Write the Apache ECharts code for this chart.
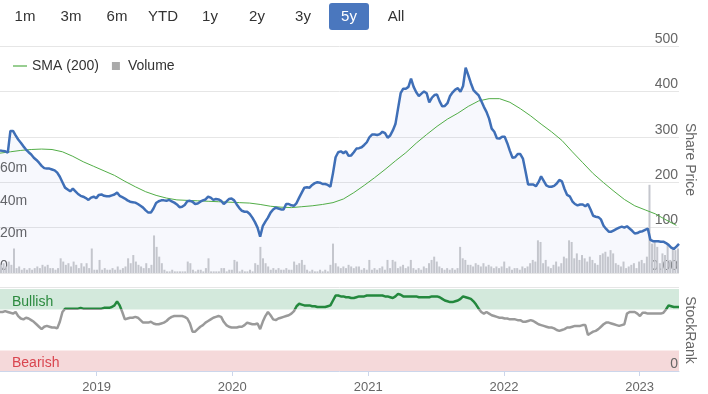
<!DOCTYPE html>
<html><head><meta charset="utf-8">
<script src="https://cdn.jsdelivr.net/npm/echarts@6/dist/echarts.min.js"></script>
<style>html,body{margin:0;padding:0;background:#fff}#c{width:708px;height:394px}</style>
</head><body><div id="c"></div>
<script>
// ---------- data ----------
const firstWeek = [2018, 3, 16];           // 2018-04-16, weekly points
const axisStart = '2018-04-16';
const axisEnd = '2023-04-17';
const rangeButtons = ['1m','3m','6m','YTD','1y','2y','3y','5y','All'];
const activeButton = '5y';
const legendNames = ['SMA (200)', 'Volume'];
const bullishFrom = 75;
const bearishTo = 25;

// weekly share price
const price = [
270,269,268,265,313,313,303,294,287,279,
272,266,261,254,249,243,236,231,230,230,
228,226,221,212,200,188,184,180,186,180,
174,170,168,165,161,166,168,165,172,173,
170,169,169,171,173,177,170,167,164,160,
157,156,155,152,148,144,138,133,133,142,
154,158,160,160,159,161,158,155,151,145,
146,150,158,159,157,152,153,157,160,162,
168,166,161,163,162,159,152,157,163,164,
160,151,143,137,135,135,130,122,112,100,
80,103,113,122,133,140,144,142,140,140,
152,152,149,148,154,166,177,188,189,188,
194,198,200,199,196,196,194,190,220,255,
266,268,264,268,258,259,266,274,275,277,
282,288,299,305,305,304,306,311,308,298,
303,314,328,362,396,406,406,410,428,410,
398,390,395,400,396,376,386,392,393,378,
367,368,374,390,398,404,407,399,412,452,
436,418,403,397,391,379,366,355,340,318,
311,297,296,300,300,286,269,254,255,262,
262,252,224,195,195,195,191,200,213,203,
193,190,190,192,197,205,202,185,172,169,
158,152,149,151,151,147,152,140,126,124,
123,118,104,97,91,91,94,97,100,102,
100,103,98,93,87,88,91,92,95,98,
73,70,70,70,69,69,66,62,56,53,
58,64];

// SMA (200), one value every 4 weeks
const smaStepWeeks = 4;
const sma = [
264,267,270,272,273,272,267,257,245,235,
225,215,202,190,179,171,165,161,160,159,
158,157,156,155,154,151,147,145,144,146,
148,151,155,163,177,193,210,228,247,265,
286,305,323,339,352,367,379,384,384,376,
362,346,328,311,292,267,243,219,199,180,
162,148,139,130,117,105];

// weekly volume (millions)
const volume = [
5,6,4,7,5,15,3,4,2,3,
2,3,2,3,4,3,5,4,5,3,
3,2,3,9,7,5,6,4,7,5,
3,6,4,6,3,15,2,2,8,2,
3,2,2,3,2,4,2,3,4,9,
6,11,7,5,4,3,6,3,5,23,
16,10,6,2,1,1,2,1,1,1,
1,1,7,6,2,1,2,2,1,3,
9,1,1,1,1,3,3,1,2,2,
8,7,1,2,1,1,2,1,6,5,
16,9,6,4,2,3,2,3,2,2,
3,2,2,7,5,6,8,5,2,1,
2,1,1,2,1,2,1,5,18,6,
4,3,4,3,5,4,3,4,4,2,
3,2,8,2,3,2,3,4,2,8,
3,8,7,3,4,5,3,4,8,3,
2,3,2,4,3,6,8,10,7,4,
3,2,3,2,3,2,3,16,9,8,
5,5,4,6,5,4,6,4,5,4,
3,4,3,4,7,3,4,2,3,3,
2,4,3,4,6,8,7,20,19,6,
8,4,3,5,7,4,6,10,9,20,
19,9,12,8,11,9,7,10,8,6,
5,11,12,13,10,14,12,6,5,4,
7,3,4,5,6,3,7,8,6,10,
54,18,20,16,6,12,11,17,8,16,
14,15];

// weekly StockRank
const stockRank = [
72,72,73,72,71,70,72,67,64,63,
65,64,62,60,57,54,51,54,55,54,
53,53,52,60,72,76,76,76,76,76,
76,77,76,76,76,76,76,76,76,76,
77,77,77,78,80,85,80,72,63,64,
65,65,66,65,62,59,59,59,60,58,
57,57,58,59,61,64,66,67,67,67,
67,66,64,58,48,48,51,54,56,59,
61,63,65,66,67,66,60,56,54,53,
53,53,54,54,56,59,58,57,57,58,
51,60,67,72,68,63,62,64,65,66,
67,68,70,73,79,82,81,80,80,80,
79,79,78,78,78,78,79,80,86,92,
92,91,91,90,90,89,89,90,91,91,
91,92,92,92,92,92,92,92,91,91,
90,89,91,94,93,91,91,91,91,91,
91,90,90,90,90,90,91,91,91,90,
88,86,85,84,84,85,86,88,91,90,
89,88,85,81,76,72,70,72,70,68,
67,66,65,65,64,64,63,63,63,62,
62,60,60,61,62,61,59,57,56,55,
54,53,53,52,50,49,50,51,53,53,
54,55,55,55,56,56,44,46,48,49,
51,54,57,59,59,58,57,56,55,56,
57,70,72,72,72,70,67,71,71,70,
70,70,70,70,70,71,75,80,79,78,
78,78];

// ---------- build ----------
function weekTs(i){
  const d = new Date(firstWeek[0], firstWeek[1], firstWeek[2]);
  d.setDate(d.getDate() + 7*i);
  return d.getTime();
}
const pricePts = price.map((v,i)=>[weekTs(i), v]);
const smaPts = sma.map((v,i)=>[weekTs(i*smaStepWeeks), v]);
const volPts = volume.map((v,i)=>[weekTs(i), v]);
const rankPts = stockRank.map((v,i)=>[weekTs(i), v]);

const FONT = '"Liberation Sans", Arial, sans-serif';
const DAY = 24*3600*1000;
const xBase = {type:'time', min: axisStart, max: axisEnd, minInterval: 365*DAY, maxInterval: 366*DAY};

const btnCenters = [25,71,117,163,210,257,303,349,396];
const graphic = [];
rangeButtons.forEach((b,i)=>{
  if (b === activeButton) {
    graphic.push({type:'rect', shape:{x:btnCenters[i]-20, y:3, width:40, height:27, r:3}, style:{fill:'#4a77be'}});
  }
  graphic.push({type:'text', x:btnCenters[i], y:17, style:{text:b, font:'15px '+FONT, fill: b===activeButton?'#fff':'#333', textAlign:'center', textVerticalAlign:'middle'}});
});
graphic.push({type:'line', shape:{x1:0,y1:287.5,x2:679,y2:287.5}, style:{stroke:'#e6e6e6', lineWidth:1}});

const gridBase = {left:0, right:29, outerBoundsMode:'none', containLabel:false};

const chart = echarts.init(document.getElementById('c'), null, {renderer:'canvas'});
chart.setOption({
  animation:false,
  backgroundColor:'#fff',
  textStyle:{fontFamily:FONT},
  graphic: graphic,
  legend:{
    left:8, top:54, itemWidth:14, itemHeight:8, itemGap:13,
    textStyle:{fontSize:14, color:'#333', fontFamily:FONT},
    data:[{name:legendNames[0], icon:'path://M0,0H14V1.2H0Z', itemStyle:{color:'#52ad47'}},
          {name:legendNames[1], icon:'path://M0,0H10V10H0Z', itemStyle:{color:'#aaa'}}]
  },
  grid:[
    Object.assign({top:46, height:227}, gridBase),
    Object.assign({top:175, height:98}, gridBase),
    Object.assign({top:289, height:82}, gridBase)
  ],
  xAxis:[
    Object.assign({gridIndex:0, show:false}, xBase),
    Object.assign({gridIndex:1, show:false}, xBase),
    Object.assign({gridIndex:2,
      axisLine:{show:true, lineStyle:{color:'#ccd6eb'}},
      axisTick:{show:true, length:5, lineStyle:{color:'#ccd6eb'}},
      axisLabel:{color:'#666', fontSize:13, margin:10, formatter:'{yyyy}', fontFamily:FONT},
      splitLine:{show:false}}, xBase)
  ],
  yAxis:[
    {gridIndex:0, type:'value', position:'right', min:0, max:500, interval:100,
     axisLine:{show:false}, axisTick:{show:false},
     splitLine:{lineStyle:{color:'#e6e6e6'}},
     axisLabel:{inside:true, margin:1, verticalAlign:'bottom', color:'#666', fontSize:14, fontFamily:FONT,
       showMinLabel:true, showMaxLabel:true,
       formatter:v=> v===0 ? '0.00' : String(v)},
     name:'Share Price', nameLocation:'middle', nameRotate:-90, nameGap:4, nameMoveOverlap:false,
     nameTextStyle:{color:'#666', fontSize:14, fontFamily:FONT}},
    {gridIndex:1, type:'value', position:'left', min:0, max:60, interval:20,
     axisLine:{show:false}, axisTick:{show:false}, splitLine:{show:false},
     axisLabel:{inside:true, margin:0, verticalAlign:'bottom', color:'#666', fontSize:14, fontFamily:FONT,
       showMinLabel:true, showMaxLabel:true,
       formatter:v=> v===0 ? '0' : v+'m'}},
    {gridIndex:2, type:'value', position:'right', min:0, max:100, interval:50,
     axisLine:{show:false}, axisTick:{show:false}, splitLine:{show:false},
     axisLabel:{inside:true, margin:1, verticalAlign:'bottom', color:'#666', fontSize:14, fontFamily:FONT,
       showMinLabel:true, showMaxLabel:false, hideOverlap:false,
       formatter:v=> v===0 ? '0' : ''},
     z:10,
     name:'StockRank', nameLocation:'middle', nameRotate:-90, nameGap:4, nameMoveOverlap:false,
     nameTextStyle:{color:'#666', fontSize:14, fontFamily:FONT}}
  ],
  visualMap:{type:'piecewise', show:false, seriesIndex:5, dimension:1,
    pieces:[{gt:bullishFrom, lte:100, color:'#23883d'}, {gte:0, lte:bullishFrom, color:'#9a9a9a'}]},
  series:[
    {name:'PriceArea', type:'line', xAxisIndex:0, yAxisIndex:0, data:pricePts, symbol:'none',
     lineStyle:{width:0}, areaStyle:{color:'rgba(70,100,200,0.06)'}, z:1, silent:true},
    {name:legendNames[1], type:'bar', xAxisIndex:1, yAxisIndex:1, data:volPts, barWidth:2,
     itemStyle:{color:'#c4c6cd'}, z:2, silent:true},
    {name:legendNames[0], type:'line', xAxisIndex:0, yAxisIndex:0, data:smaPts, symbol:'none',
     lineStyle:{color:'#52ad47', width:1}, itemStyle:{color:'#52ad47'}, z:3, silent:true},
    {name:'Price', type:'line', xAxisIndex:0, yAxisIndex:0, data:pricePts, symbol:'none',
     lineStyle:{color:'#3f6fb7', width:2.5}, z:4, silent:true},
    {name:'Bands', type:'line', xAxisIndex:2, yAxisIndex:2, data:rankPts, symbol:'none',
     lineStyle:{opacity:0}, itemStyle:{color:'#9a9a9a'}, z:1, silent:true,
     markArea:{silent:true,
       data:[
         [{xAxis:axisStart, yAxis:bullishFrom, name:'Bullish', itemStyle:{color:'#d3e9dc'},
           label:{show:true, position:'insideLeft', distance:12, offset:[0,3], color:'#2b8a3e', fontSize:14, fontFamily:FONT}},
          {xAxis:axisEnd, yAxis:100}],
         [{xAxis:axisStart, yAxis:0, name:'Bearish', itemStyle:{color:'#f5d9da'},
           label:{show:true, position:'insideLeft', distance:12, offset:[0,2], color:'#d9454f', fontSize:14, fontFamily:FONT}},
          {xAxis:axisEnd, yAxis:bearishTo}]
       ]}},
    {name:'StockRank', type:'line', xAxisIndex:2, yAxisIndex:2, data:rankPts, symbol:'none',
     lineStyle:{width:2.5}, z:3, silent:true}
  ]
});
</script>
</body></html>
